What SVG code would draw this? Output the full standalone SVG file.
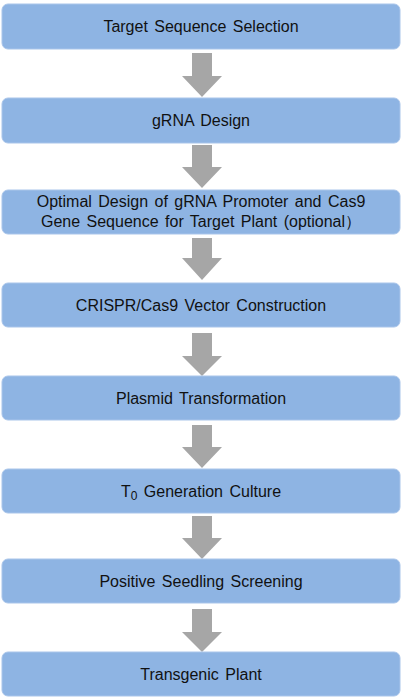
<svg xmlns="http://www.w3.org/2000/svg" width="402" height="700" viewBox="0 0 402 700">
<defs>
<style>
.box{fill:#8EB4E3;stroke:#A9C5EA;stroke-width:1}
.t{font-family:"Liberation Sans",Arial,sans-serif;font-size:16px;word-spacing:2px;fill:#111;text-anchor:middle}
.arr{fill:#A6A6A6}
</style>
</defs>
<rect width="402" height="700" fill="#fff"/>
<g id="connectors">
<path class="arr" d="M192,53 H212 V76 H222 L202,97 L182,76 H192 Z"/>
<path class="arr" d="M192,145 H212 V167 H222 L202,188 L182,167 H192 Z"/>
<path class="arr" d="M192,238 H212 V258 H222 L202,280 L182,258 H192 Z"/>
<path class="arr" d="M192,333 H212 V356 H222 L202,376 L182,356 H192 Z"/>
<path class="arr" d="M192,425 H212 V447 H222 L202,468 L182,447 H192 Z"/>
<path class="arr" d="M192,516 H212 V538 H222 L202,559 L182,538 H192 Z"/>
<path class="arr" d="M192,609 H212 V632 H222 L202,652 L182,632 H192 Z"/>
</g>
<g id="n1"><rect class="box" x="2" y="4" width="398" height="45" rx="6"/><text class="t" x="201" y="32">Target Sequence Selection</text></g>
<g id="n2"><rect class="box" x="2" y="98" width="398" height="45" rx="6"/><text class="t" x="201" y="126">gRNA Design</text></g>
<g id="n3"><rect class="box" x="2" y="190" width="398" height="44" rx="6"/><text class="t" x="201" y="207">Optimal Design of gRNA Promoter and Cas9</text><text class="t" x="201" y="227">Gene Sequence for Target Plant (optional）</text></g>
<g id="n4"><rect class="box" x="2" y="283" width="398" height="44" rx="6"/><text class="t" x="201" y="311">CRISPR/Cas9 Vector Construction</text></g>
<g id="n5"><rect class="box" x="2" y="376" width="398" height="44" rx="6"/><text class="t" x="201" y="404">Plasmid Transformation</text></g>
<g id="n6"><rect class="box" x="2" y="469" width="398" height="44" rx="6"/><text class="t" x="201" y="497">T<tspan font-size="12" dy="3">0</tspan><tspan dy="-3"> Generation Culture</tspan></text></g>
<g id="n7"><rect class="box" x="2" y="559" width="398" height="44" rx="6"/><text class="t" x="201" y="587">Positive Seedling Screening</text></g>
<g id="n8"><rect class="box" x="2" y="652" width="398" height="44" rx="6"/><text class="t" x="201" y="680">Transgenic Plant</text></g>
</svg>
